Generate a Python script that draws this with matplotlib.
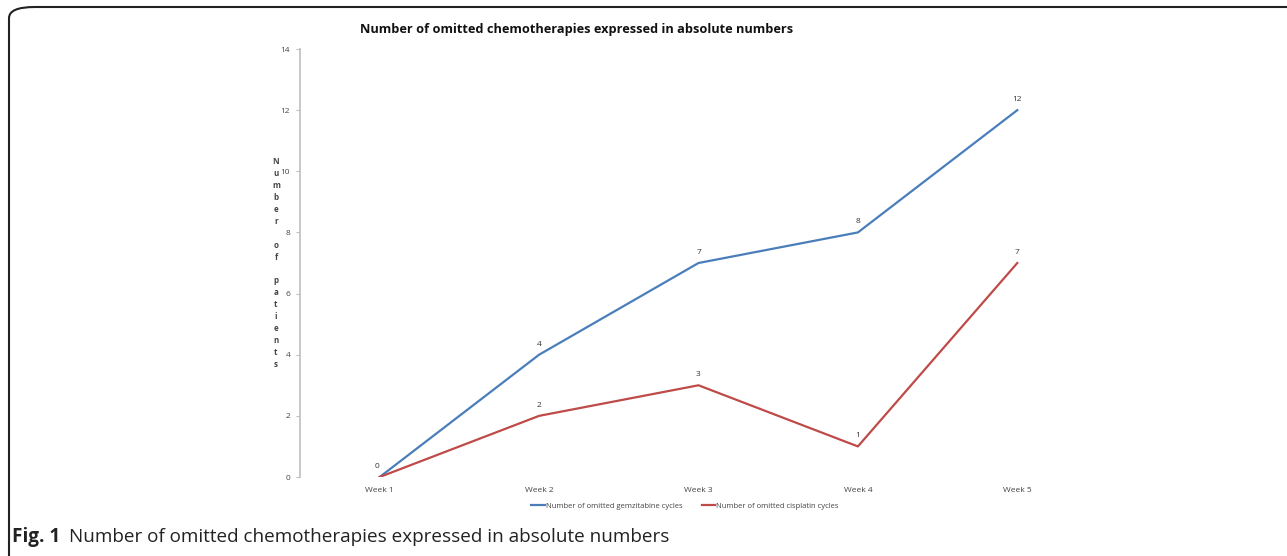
import matplotlib.pyplot as plt
from matplotlib.patches import FancyBboxPatch

weeks = ['Week 1', 'Week 2', 'Week 3', 'Week 4', 'Week 5']
gemzitabine = [0, 4, 7, 8, 12]
cisplatin = [0, 2, 3, 1, 7]
gem_labels = ['0', '4', '7', '8', '12']
cis_labels = ['', '2', '3', '1', '7']

blue = '#4A7EBB'
red = '#BE4B48'

plt.rcParams['font.family'] = ['Open Sans', 'DejaVu Sans']

fig = plt.figure(figsize=(12.87, 5.56), dpi=100)

# journal figure frame with rounded corners, running off right and bottom
frame = FancyBboxPatch((9 / 1287, -0.2), 1.2, 1 - 7 / 556 + 0.2,
                       boxstyle='round,pad=0,rounding_size=0.02',
                       transform=fig.transFigure, fill=False,
                       edgecolor='#222222', linewidth=1.5)
fig.patches.append(frame)

ax = fig.add_axes([300 / 1287, 1 - 477 / 556, 797 / 1287, 428 / 556])
x = range(len(weeks))
ax.plot(x, gemzitabine, color=blue, linewidth=1.6,
        label='Number of omitted gemzitabine cycles')
ax.plot(x, cisplatin, color=red, linewidth=1.6,
        label='Number of omitted cisplatin cycles')

for i, (v, t) in enumerate(zip(gemzitabine, gem_labels)):
    if t:
        dx = -2 if i == 0 else 0
        ax.annotate(t, (i, v), xytext=(dx, 5), textcoords='offset points',
                    ha='center', va='bottom', fontsize=6, color='#333333')
for i, (v, t) in enumerate(zip(cisplatin, cis_labels)):
    if t:
        ax.annotate(t, (i, v), xytext=(0, 5), textcoords='offset points',
                    ha='center', va='bottom', fontsize=6, color='#333333')

ax.set_xlim(-0.5, 4.5)
ax.set_ylim(0, 14)
ax.set_yticks(range(0, 15, 2))
ax.set_xticks(list(x))
ax.set_xticklabels(weeks)
for s in ['top', 'right', 'bottom']:
    ax.spines[s].set_visible(False)
ax.spines['left'].set_color('#BFBFBF')
ax.spines['left'].set_linewidth(1.2)
ax.tick_params(axis='y', length=3, color='#BFBFBF', labelsize=6,
               labelcolor='#444444', pad=4)
ax.tick_params(axis='x', length=0, labelsize=6, labelcolor='#444444', pad=7)

ylabel = '\n'.join(list('Number')) + '\n\n' + '\n'.join(list('of')) + \
    '\n\n' + '\n'.join(list('patients'))
fig.text(276 / 1287, 1 - 263 / 556, ylabel, ha='center', va='center',
         fontsize=5.8, fontweight='bold', color='#444444', linespacing=1.42)

fig.text(577 / 1287, 1 - 30 / 556,
         'Number of omitted chemotherapies expressed in absolute numbers',
         ha='center', va='center', fontsize=9.2, fontweight='bold',
         color='#111111')

fig.legend(loc='center', bbox_to_anchor=(685 / 1287, 1 - 506 / 556),
           ncol=2, frameon=False, fontsize=5.5, handlelength=1.8,
           handletextpad=0.1, columnspacing=2.5, labelcolor='#444444')

fig.text(12 / 1287, 1 - 537 / 556, 'Fig. 1', fontsize=13.6,
         fontweight='bold', ha='left', va='center', color='#222222')
fig.text(69 / 1287, 1 - 537 / 556,
         'Number of omitted chemotherapies expressed in absolute numbers',
         fontsize=13.6, ha='left', va='center', color='#222222')

fig.savefig('out.png', dpi=100)
